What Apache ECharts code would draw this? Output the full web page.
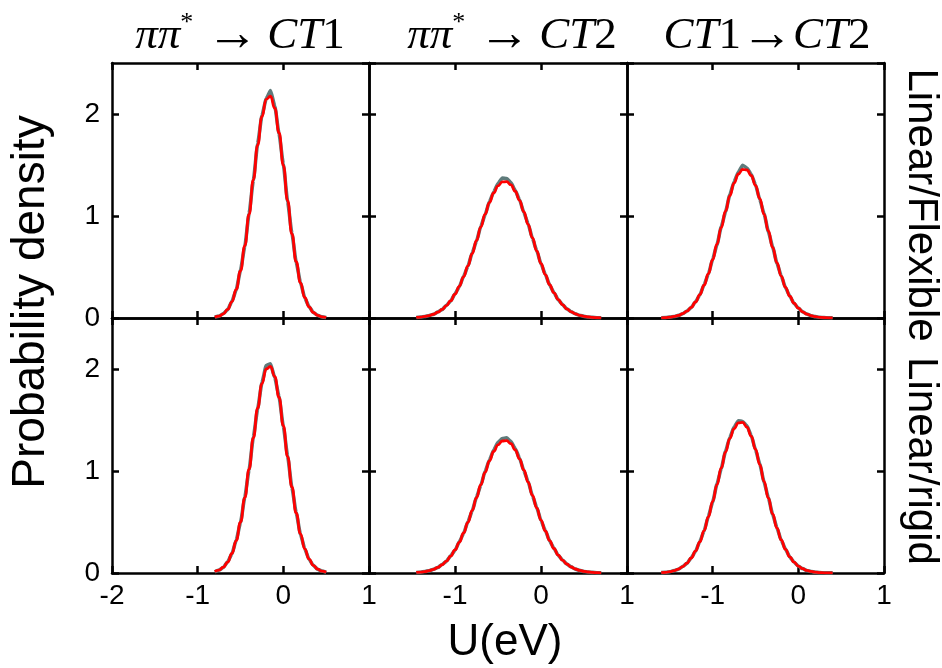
<!DOCTYPE html>
<html>
<head>
<meta charset="utf-8">
<script src="https://cdn.jsdelivr.net/npm/echarts@6/dist/echarts.min.js"></script>
<style>
  html, body { margin: 0; padding: 0; background: #fff; }
  #chart { width: 942px; height: 668px; }
</style>
</head>
<body>
<div id="chart"></div>
<script>
// Energy sample points (eV) for each column of panels
const uCol1 = [-0.80,-0.75,-0.70,-0.65,-0.60,-0.55,-0.50,-0.45,-0.40,-0.35,-0.30,-0.25,-0.20,-0.15,-0.10,-0.05,0.00,0.05,0.10,0.15,0.20,0.25,0.30,0.35,0.40,0.45,0.50];
const uCol2 = [-1.45,-1.40,-1.35,-1.30,-1.25,-1.20,-1.15,-1.10,-1.05,-1.00,-0.95,-0.90,-0.85,-0.80,-0.75,-0.70,-0.65,-0.60,-0.55,-0.50,-0.45,-0.40,-0.35,-0.30,-0.25,-0.20,-0.15,-0.10,-0.05,0.00,0.05,0.10,0.15,0.20,0.25,0.30,0.35,0.40,0.45,0.50,0.55,0.60,0.65,0.70];
const uCol3 = [-1.60,-1.55,-1.50,-1.45,-1.40,-1.35,-1.30,-1.25,-1.20,-1.15,-1.10,-1.05,-1.00,-0.95,-0.90,-0.85,-0.80,-0.75,-0.70,-0.65,-0.60,-0.55,-0.50,-0.45,-0.40,-0.35,-0.30,-0.25,-0.20,-0.15,-0.10,-0.05,0.00,0.05,0.10,0.15,0.20,0.25,0.30,0.35,0.40];

// Linear/Flexible row: sampled distributions (hist) and Gaussian fits (fit)
const histFlexCT1 = [0.009,0.018,0.043,0.082,0.163,0.276,0.468,0.701,1.024,1.349,1.708,1.985,2.150,2.230,2.079,1.806,1.509,1.141,0.831,0.547,0.349,0.198,0.112,0.054,0.027,0.011,0.005];
const fitFlexCT1  = [0.008,0.019,0.041,0.084,0.159,0.280,0.461,0.708,1.015,1.357,1.694,1.973,2.144,2.174,2.057,1.816,1.496,1.150,0.824,0.552,0.344,0.201,0.109,0.055,0.026,0.012,0.005];
const histFlexCT2 = [0.005,0.010,0.014,0.025,0.036,0.059,0.082,0.124,0.167,0.237,0.307,0.409,0.507,0.639,0.754,0.899,1.011,1.141,1.236,1.318,1.372,1.366,1.329,1.251,1.161,1.036,0.924,0.781,0.662,0.531,0.429,0.325,0.250,0.179,0.132,0.089,0.062,0.040,0.027,0.016,0.010,0.006,0.003,0.002];
const fitFlexCT2  = [0.005,0.009,0.015,0.024,0.037,0.057,0.084,0.121,0.170,0.233,0.311,0.404,0.512,0.632,0.760,0.891,1.018,1.132,1.227,1.296,1.334,1.337,1.306,1.243,1.153,1.042,0.917,0.787,0.657,0.535,0.425,0.328,0.247,0.181,0.130,0.090,0.061,0.041,0.026,0.016,0.010,0.006,0.003,0.002];
const histFlexCT12 = [0.002,0.004,0.009,0.014,0.026,0.041,0.069,0.103,0.160,0.226,0.325,0.431,0.577,0.718,0.893,1.041,1.207,1.336,1.431,1.498,1.470,1.409,1.306,1.162,1.022,0.847,0.697,0.538,0.414,0.298,0.215,0.143,0.097,0.060,0.039,0.022,0.013,0.007,0.004,0.002,0.001];
const fitFlexCT12  = [0.002,0.004,0.008,0.015,0.025,0.042,0.067,0.105,0.157,0.229,0.321,0.435,0.571,0.723,0.886,1.048,1.198,1.323,1.412,1.456,1.451,1.397,1.300,1.169,1.016,0.853,0.692,0.542,0.411,0.301,0.213,0.145,0.096,0.061,0.038,0.022,0.013,0.007,0.004,0.002,0.001];

// Linear/rigid row
const histRigidCT1 = [0.012,0.029,0.055,0.110,0.188,0.322,0.494,0.742,1.011,1.332,1.608,1.866,2.035,2.052,1.915,1.730,1.437,1.146,0.838,0.592,0.380,0.239,0.133,0.076,0.037,0.019,0.008];
const fitRigidCT1  = [0.013,0.028,0.057,0.107,0.191,0.318,0.499,0.736,1.018,1.324,1.617,1.855,2.000,2.025,1.926,1.721,1.445,1.139,0.844,0.587,0.384,0.236,0.136,0.074,0.038,0.018,0.008];
const histRigidCT2 = [0.005,0.008,0.015,0.022,0.037,0.054,0.083,0.115,0.168,0.222,0.305,0.388,0.503,0.608,0.745,0.859,0.996,1.108,1.205,1.281,1.318,1.326,1.289,1.221,1.127,1.004,0.897,0.757,0.643,0.515,0.416,0.315,0.243,0.174,0.128,0.087,0.060,0.038,0.026,0.015,0.010,0.006,0.003,0.002];
const fitRigidCT2  = [0.005,0.009,0.014,0.023,0.036,0.055,0.081,0.117,0.165,0.226,0.301,0.392,0.497,0.613,0.738,0.865,0.987,1.098,1.191,1.257,1.294,1.297,1.267,1.206,1.119,1.011,0.890,0.763,0.638,0.519,0.412,0.318,0.240,0.176,0.126,0.088,0.059,0.039,0.025,0.016,0.010,0.006,0.003,0.002];
const histRigidCT12 = [0.004,0.008,0.012,0.024,0.037,0.064,0.095,0.150,0.212,0.309,0.412,0.556,0.696,0.871,1.024,1.193,1.329,1.430,1.492,1.486,1.442,1.348,1.208,1.069,0.892,0.738,0.575,0.444,0.322,0.234,0.157,0.107,0.067,0.043,0.025,0.014,0.008,0.004,0.002,0.001,0.001];
const fitRigidCT12  = [0.004,0.007,0.013,0.023,0.038,0.062,0.097,0.147,0.215,0.305,0.416,0.550,0.701,0.864,1.030,1.185,1.318,1.416,1.471,1.476,1.431,1.341,1.214,1.062,0.898,0.733,0.579,0.441,0.325,0.232,0.159,0.106,0.068,0.042,0.025,0.015,0.008,0.004,0.002,0.001,0.001];

const xTicks = [-2, -1, 0, 1];
const yTicks = [0, 1, 2];
const rowLabels = ['Linear/Flexible', 'Linear/rigid'];
const yAxisTitle = 'Probability density';
const xAxisTitle = 'U(eV)';

// panel order: row-major, top row first
const panels = [
  { u: uCol1, hist: histFlexCT1,  fit: fitFlexCT1 },
  { u: uCol2, hist: histFlexCT2,  fit: fitFlexCT2 },
  { u: uCol3, hist: histFlexCT12, fit: fitFlexCT12 },
  { u: uCol1, hist: histRigidCT1,  fit: fitRigidCT1 },
  { u: uCol2, hist: histRigidCT2,  fit: fitRigidCT2 },
  { u: uCol3, hist: histRigidCT12, fit: fitRigidCT12 }
];

const colLeft = [112, 369, 627];
const colWidth = [257, 258, 257];
const rowTop = [63, 318];
const rowHeight = 255;
const sansFont = '"Liberation Sans", Arial, sans-serif';
const serifFont = '"Liberation Serif", "DejaVu Serif", serif';

const grids = [], xAxes = [], yAxes = [], series = [];
const axisLine = { show: true, onZero: false, lineStyle: { color: '#000', width: 2.5 } };
const axisTick = { show: true, inside: true, length: 7, lineStyle: { color: '#000', width: 2.5 } };

panels.forEach((p, gi) => {
  const r = Math.floor(gi / 3), c = gi % 3;
  grids.push({ left: colLeft[c], top: rowTop[r], width: colWidth[c], height: rowHeight });
  const xBase = {
    gridIndex: gi, type: 'value', min: xTicks[0], max: xTicks[xTicks.length - 1], interval: 1,
    axisLine, axisTick, splitLine: { show: false }
  };
  xAxes.push(Object.assign({}, xBase, {
    position: 'bottom',
    axisLabel: {
      show: r === 1, showMinLabel: c === 0, showMaxLabel: true,
      fontSize: 28, fontFamily: sansFont, color: '#000', margin: 9
    }
  }));
  xAxes.push(Object.assign({}, xBase, { position: 'top', axisLabel: { show: false } }));
  const yBase = {
    gridIndex: gi, type: 'value', min: yTicks[0], max: 2.5, interval: 1,
    axisLine, axisTick, splitLine: { show: false }
  };
  yAxes.push(Object.assign({}, yBase, {
    position: 'left',
    axisLabel: {
      show: c === 0, showMaxLabel: false, showMinLabel: true,
      fontSize: 28, fontFamily: sansFont, color: '#000', margin: 12
    }
  }));
  yAxes.push(Object.assign({}, yBase, { position: 'right', axisLabel: { show: false } }));

  const histData = p.u.map((u, i) => [u, p.hist[i]]);
  const fitData = p.u.map((u, i) => [u, p.fit[i]]);
  series.push({
    type: 'line', xAxisIndex: gi * 2, yAxisIndex: gi * 2, data: histData,
    showSymbol: false, smooth: 0.15, smoothMonotone: 'x', silent: true,
    lineStyle: { color: '#5f7b7b', width: 3.6 }, z: 2
  });
  series.push({
    type: 'line', xAxisIndex: gi * 2, yAxisIndex: gi * 2, data: fitData,
    showSymbol: false, smooth: 0.5, smoothMonotone: 'x', silent: true,
    lineStyle: { color: '#ff0000', width: 2.8 }, z: 3
  });
});

// column headings (transitions) in math-style italic
const headRich = {
  i: { fontFamily: serifFont, fontStyle: 'italic', fontSize: 45, color: '#000' },
  n: { fontFamily: serifFont, fontSize: 45, color: '#000' },
  a: { fontFamily: serifFont, fontSize: 52, color: '#000' },
  s: { fontFamily: serifFont, fontSize: 26, color: '#000', verticalAlign: 'top' }
};
const headings = [
  { x: 240, text: '{i|ππ}{s|*}{a| →}{i|\u2009CT}{n|1}' },
  { x: 512, text: '{i|ππ}{s|*}{a| →}{i|\u2009CT}{n|2}' },
  { x: 767, text: '{i|CT}{n|1}{a|→}{i|CT}{n|2}' }
];

const graphic = headings.map(h => ({
  type: 'text', x: h.x, y: 36,
  style: { text: h.text, rich: headRich, align: 'center', verticalAlign: 'middle' }
}));

graphic.push({
  type: 'text', x: 31, y: 302, rotation: Math.PI / 2,
  style: { text: yAxisTitle, fontFamily: sansFont, fontSize: 46, fill: '#000', align: 'center', verticalAlign: 'middle' }
});
graphic.push({
  type: 'text', x: 505, y: 643,
  style: { text: xAxisTitle, fontFamily: sansFont, fontSize: 44, fill: '#000', align: 'center', verticalAlign: 'middle' }
});
rowLabels.forEach((t, r) => {
  graphic.push({
    type: 'text', x: 921, y: r === 0 ? 205 : 461, rotation: -Math.PI / 2,
    style: { text: t, fontFamily: sansFont, fontSize: 42, fill: '#000', align: 'center', verticalAlign: 'middle' }
  });
});

const chart = echarts.init(document.getElementById('chart'), null, { renderer: 'canvas' });
chart.setOption({
  animation: false,
  backgroundColor: '#fff',
  grid: grids,
  xAxis: xAxes,
  yAxis: yAxes,
  series,
  graphic
});
</script>
</body>
</html>
